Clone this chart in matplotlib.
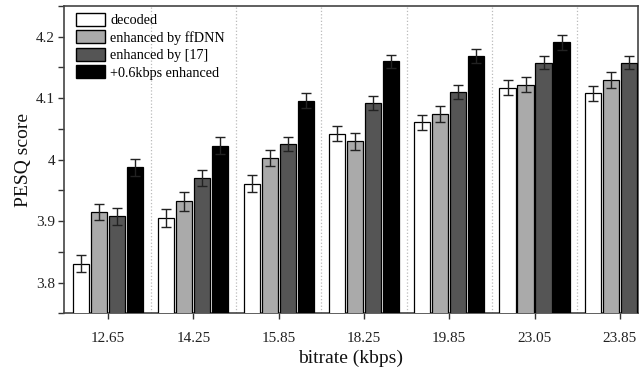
import numpy as np
import matplotlib
matplotlib.use("Agg")
import matplotlib.pyplot as plt
from matplotlib.ticker import MultipleLocator

plt.rcParams["font.family"] = ["Liberation Serif", "DejaVu Serif"]

bitrates = ["12.65", "14.25", "15.85", "18.25", "19.85", "23.05", "23.85"]
series   = ["decoded", "enhanced by ffDNN", "enhanced by [17]", "+0.6kbps enhanced"]
colors   = ["#ffffff", "#aaaaaa", "#555555", "#000000"]

decoded  = [3.831, 3.905, 3.961, 4.042, 4.061, 4.117, 4.108]
ffdnn    = [3.915, 3.932, 4.003, 4.030, 4.074, 4.122, 4.130]
ref17    = [3.908, 3.970, 4.026, 4.092, 4.110, 4.158, 4.158]
enh06    = [3.9875, 4.023, 4.096, 4.160, 4.168, 4.191, np.nan]

err_dec   = [0.0145, 0.014, 0.0135, 0.012, 0.012, 0.012, 0.012]
err_ffdnn = [0.0135, 0.015, 0.0135, 0.014, 0.013, 0.0127, 0.0127]
err_ref17 = [0.014, 0.0125, 0.0115, 0.011, 0.011, 0.011, 0.011]
err_enh06 = [0.014, 0.014, 0.012, 0.011, 0.0115, 0.012, np.nan]

values = [decoded, ffdnn, ref17, enh06]
errors = [err_dec, err_ffdnn, err_ref17, err_enh06]

fig = plt.figure(figsize=(6.44, 3.78), dpi=100)
ax = fig.add_axes([0.0994, 0.1712, 0.8913, 0.8129])

x = np.arange(len(bitrates))
width = 0.19
step = 0.211
for k, (vals, errs) in enumerate(zip(values, errors)):
    pos = x + (k - 1.5) * step
    ax.bar(pos, vals, width, color=colors[k], edgecolor="black", linewidth=0.9,
           label=series[k], zorder=3)
    ax.errorbar(pos, vals, yerr=errs, fmt="none", ecolor="#222222",
                elinewidth=1.0, capsize=3.3, capthick=1.0, zorder=4)

# dotted separators between bitrate groups
for b in x[:-1] + 0.5:
    ax.axvline(b, color="#bbbbbb", ls=":", lw=0.9, zorder=1)

ax.set_xlim(-0.516, 6.213)
ax.set_ylim(3.75, 4.25)
ax.set_xticks(x)
ax.set_xticklabels(bitrates)
ax.yaxis.set_minor_locator(MultipleLocator(0.05))
ax.set_yticks([3.8, 3.9, 4.0, 4.1, 4.2])
ax.set_yticklabels(["3.8", "3.9", "4", "4.1", "4.2"])
ax.tick_params(axis="both", which="major", direction="out", length=4.5, width=1,
               labelsize=11, colors="#333333", labelcolor="#222222")
ax.tick_params(axis="y", which="minor", direction="out", length=4.5, width=1, colors="#333333")
ax.tick_params(axis="y", pad=2)
ax.tick_params(axis="x", pad=9)
for s in ax.spines.values():
    s.set_linewidth(1.2)
    s.set_color("#444444")

ax.set_xlabel("bitrate (kbps)", fontsize=14, color="#111111", labelpad=3)
ax.set_ylabel("PESQ score", fontsize=14, color="#111111", labelpad=3)

leg = ax.legend(loc="upper left", bbox_to_anchor=(0.0204, 0.978), frameon=False,
                borderpad=0, borderaxespad=0, fontsize=10.2, handlelength=2.1,
                handleheight=1.05, labelspacing=0.22, handletextpad=0.33)
for h in leg.legend_handles:
    h.set_linewidth(1.0)

fig.savefig("out.png", dpi=100)
